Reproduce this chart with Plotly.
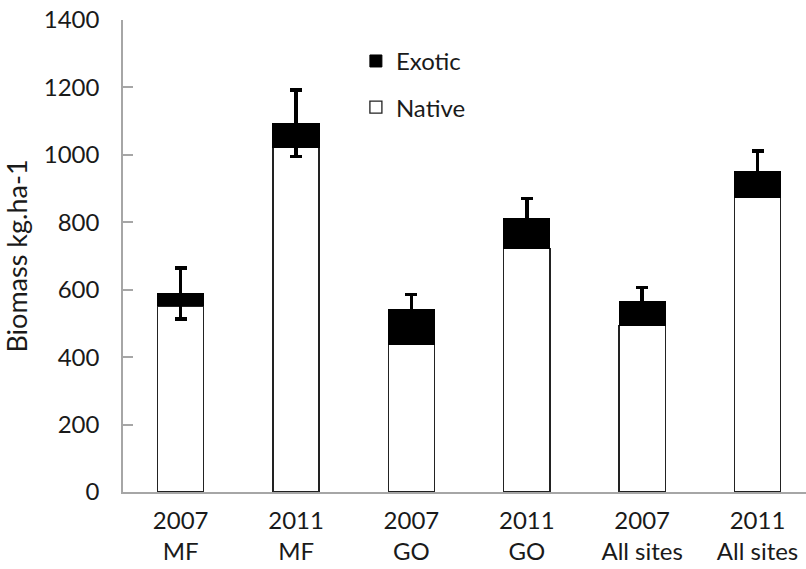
import plotly.graph_objects as go

categories = ["2007<br>MF", "2011<br>MF", "2007<br>GO", "2011<br>GO", "2007<br>All sites", "2011<br>All sites"]
native = [552, 1022, 438, 723, 494, 874]
total = [589, 1094, 541, 811, 564, 952]
exotic = [t - n for t, n in zip(total, native)]
error = [76, 99, 45, 60, 43, 60]
y_ticks = [0, 200, 400, 600, 800, 1000, 1200, 1400]

FONT = "Lato"
FS = 24
TXT = "#1a1a1a"
fig = go.Figure()
fig.add_trace(go.Bar(
    x=categories, y=native, name="Native",
    marker=dict(color="white", line=dict(color="#222222", width=1.3)),
    width=0.4, legendgroup="n", legendrank=2,
))
fig.add_trace(go.Bar(
    x=categories, y=exotic, name="Exotic",
    marker=dict(color="black", line=dict(color="black", width=1)),
    width=0.4, legendgroup="e", legendrank=1,
    error_y=dict(type="data", array=error, visible=True, color="black", thickness=3.5, width=6),
))

fig.update_layout(
    barmode="stack",
    width=806, height=569,
    margin=dict(l=123, r=0, t=20, b=77, autoexpand=False),
    paper_bgcolor="white", plot_bgcolor="white",
    font=dict(family=FONT, size=FS, color=TXT),
    showlegend=True,
    legend=dict(
        x=0.341, xanchor="left", y=0.96, yanchor="top",
        traceorder="grouped", tracegroupgap=12,
        font=dict(family=FONT, size=FS, color=TXT),
        bgcolor="rgba(0,0,0,0)",
    ),
    xaxis=dict(
        range=[-0.5, 5.42], showline=True, linecolor="#a6a6a6", linewidth=1.5,
        ticks="", showgrid=False, tickfont=dict(family=FONT, size=FS, color=TXT),
        fixedrange=True, automargin=False, ticklabelstandoff=6,
        ticklabeloverflow="allow",
    ),
    yaxis=dict(
        range=[0, 1400], tickvals=y_ticks, showline=True, linecolor="#a6a6a6", linewidth=1.5,
        ticks="inside", ticklen=10, tickcolor="#a6a6a6", tickwidth=1.5,
        showgrid=False, zeroline=False, automargin=False, ticklabelstandoff=17,
        ticklabeloverflow="allow",
        tickfont=dict(family=FONT, size=FS, color=TXT),
        title=dict(text="Biomass kg.ha-1", font=dict(family=FONT, size=27, color=TXT), standoff=18),
    ),
)

fig.write_html(
    "out.html",
    config={"displayModeBar": False},
    post_script="document.body.style.margin='0';document.body.style.padding='0';",
)
